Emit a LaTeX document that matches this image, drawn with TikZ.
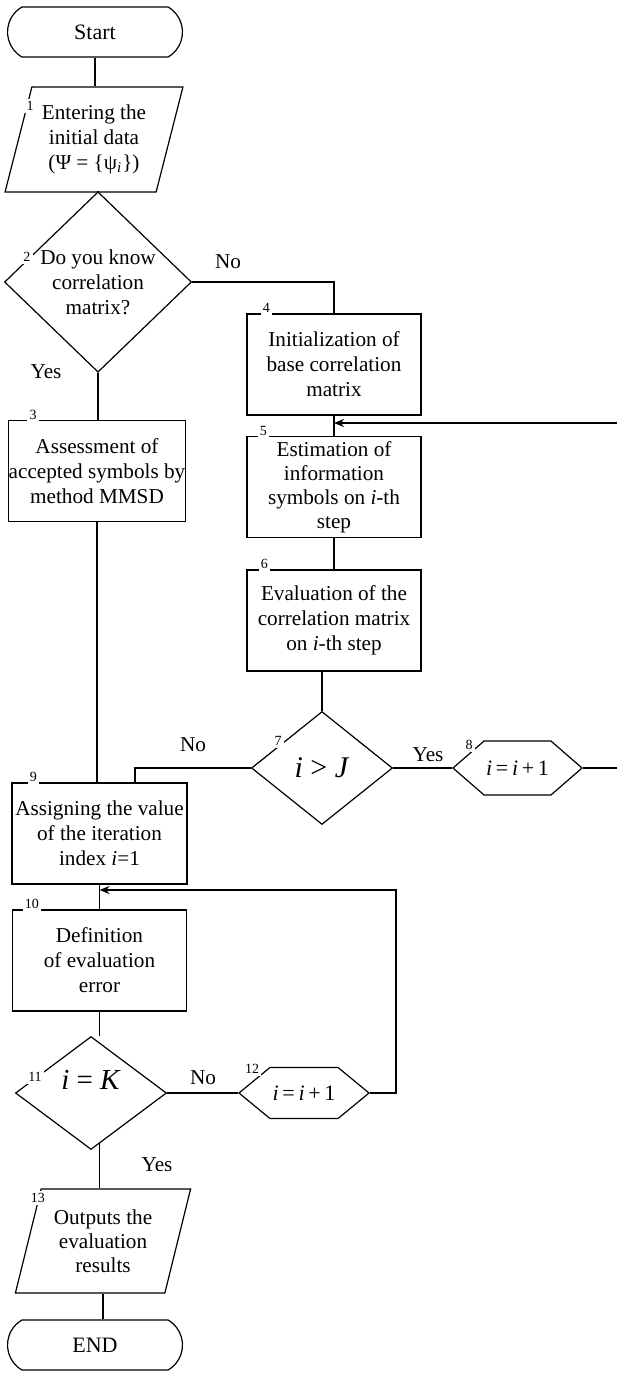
\documentclass[tikz,border=0pt]{standalone}
\usepackage{fontspec}
\setmainfont{Liberation Serif}
\usetikzlibrary{shapes.geometric,shapes.misc,shapes.symbols,arrows.meta,positioning,calc}

\begin{document}
\begin{tikzpicture}[x=0.5pt,y=-0.5pt,line width=0.6pt,
  every node/.style={font=\fontsize{10.6}{12.5}\selectfont},
  term/.style={draw,rounded rectangle,rounded rectangle arc length=120,minimum width=87.5pt,minimum height=25pt,inner sep=0pt,font=\fontsize{11}{13}\selectfont},
  proc/.style={draw,rectangle,minimum width=87pt,minimum height=50.5pt,inner sep=0pt,align=center},
  io/.style={draw,trapezium,trapezium left angle=72,trapezium right angle=108,trapezium stretches=true,minimum width=88pt,minimum height=52pt,inner sep=0pt,align=center},
  dec/.style={draw,diamond,inner sep=0pt,align=center},
  hexa/.style={draw,signal,signal to=west and east,signal pointer angle=82,minimum width=64.5pt,minimum height=27pt,inner sep=0pt,font=\fontsize{11}{13}\selectfont},
  num/.style={fill=white,inner sep=1.2pt,font=\fontsize{7}{8}\selectfont},
  back/.style={-{Stealth[length=5pt,width=4pt]}}
]
\useasboundingbox (0,0) rectangle (617,1373);

% main column
\node[term] (start) at (95,32) {Start};
\node[io,minimum width=89pt,minimum height=52.5pt] (in1) at (94,139.5) {Entering the\\initial data\\(Ψ = \{ψ\textsubscript{\textit{i}}\})};
\node[dec,minimum width=93.5pt,minimum height=65pt] (dec2) at (98,282) {Do you know\\correlation\\matrix?};
\node[proc] (b3) at (97,471) {Assessment of\\accepted symbols by\\method MMSD};

% right branch
\node[proc] (b4) at (334,364.5) {Initialization of\\base correlation\\matrix};
\node[proc,font=\fontsize{10.6}{12}\selectfont] (b5) at (334,487) {Estimation of\\information\\symbols on \textit{i}-th\\step};
\node[proc] (b6) at (334,620.5) {Evaluation of the\\correlation matrix\\on \textit{i}-th step};
\node[dec,minimum width=70.5pt,minimum height=56.5pt,font=\fontsize{15}{17}\selectfont] (dec7) at (322,768) {\textit{i} > \textit{J}};
\node[hexa] (h8) at (517.5,768) {\textit{i}\,=\,\textit{i}\,+\,1};

% iteration part
\node[proc,minimum width=87.5pt] (b9) at (99.5,833.5) {Assigning the value\\of the iteration\\index \textit{i}=1};
\node[proc] (b10) at (99.5,960.5) {Definition\\of evaluation\\error};
\node[dec,minimum width=75.5pt,minimum height=56.5pt,font=\fontsize{14.5}{17}\selectfont] (dec11) at (91,1093) {\raisebox{13pt}{\textit{i} = \textit{K}}};
\node[hexa,minimum width=65pt,minimum height=25.5pt,signal pointer angle=79] (h12) at (304,1093) {\textit{i}\,=\,\textit{i}\,+\,1};
\node[io,font=\fontsize{10.6}{12}\selectfont] (out13) at (103,1241) {Outputs the\\evaluation\\results};
\node[term] (end) at (95,1345) {END};

% block numbers
\node[num] (n1) at (30,106) {1};
\node[num] (n2) at (27,257) {2};
\node[num,anchor=south,yshift=-1.2pt] (n3) at ([xshift=12.5pt]b3.north west) {3};
\node[num,anchor=south,yshift=-1.2pt] (n4) at ([xshift=10pt]b4.north west) {4};
\node[num,anchor=south,yshift=-1.2pt] (n5) at ([xshift=8.5pt]b5.north west) {5};
\node[num,anchor=south,yshift=-1.2pt] (n6) at ([xshift=9pt]b6.north west) {6};
\node[num] (n7) at (278,741) {7};
\node[num] (n8) at (469,745) {8};
\node[num,anchor=south,yshift=-1.2pt] (n9) at ([xshift=11pt]b9.north west) {9};
\node[num,anchor=south,yshift=-1.2pt] (n10) at ([xshift=10pt]b10.north west) {10};
\node[num] (n11) at (35,1077) {11};
\node[num] (n12) at (252,1069) {12};
\node[num] (n13) at (38,1198) {13};

% answers
\node (no2) at (228,262) {No};
\node (yes2) at (46,372) {Yes};
\node (no7) at (193,745) {No};
\node (yes7) at (428,755) {Yes};
\node (no11) at (203,1078) {No};
\node (yes11) at (157,1165) {Yes};

% free ends and joints
\coordinate (e5) at (617,423);
\coordinate (j5) at (334,423);
\coordinate (e8) at (617,768);
\coordinate (c12) at (396,890);
\coordinate (j10) at (99.5,890);

% connectors
\draw (start.south) -- (start.south |- in1.north);
\draw (in1.south -| dec2.north) -- (dec2.north);
\draw (dec2.south) -- (dec2.south |- b3.north);
\draw (dec2.east) -| (b4.north);
\draw (b4) -- (b5);
\draw[back,line width=1.1pt] (e5) -- (j5);
\draw (b5) -- (b6);
\draw (b6.south -| dec7.north) -- (dec7.north);
\draw (dec7.east) -- (h8.west);
\draw (h8.east) -- (e8);
\draw (dec7.west) -| ([xshift=17.75pt]b9.north);
\draw (b3.south) -- (b3.south |- b9.north);
\draw (b9) -- (b10);
\draw[back,line width=0.8pt] (h12.east) -| (c12) -- (j10);
\draw (b10.south) -- (b10.south |- dec11.north);
\draw (dec11.east) -- (h12.west);
\draw (dec11.-80) -- (dec11.-80 |- out13.north);
\draw (out13.south) -- (out13.south |- end.north);
\end{tikzpicture}
\end{document}
